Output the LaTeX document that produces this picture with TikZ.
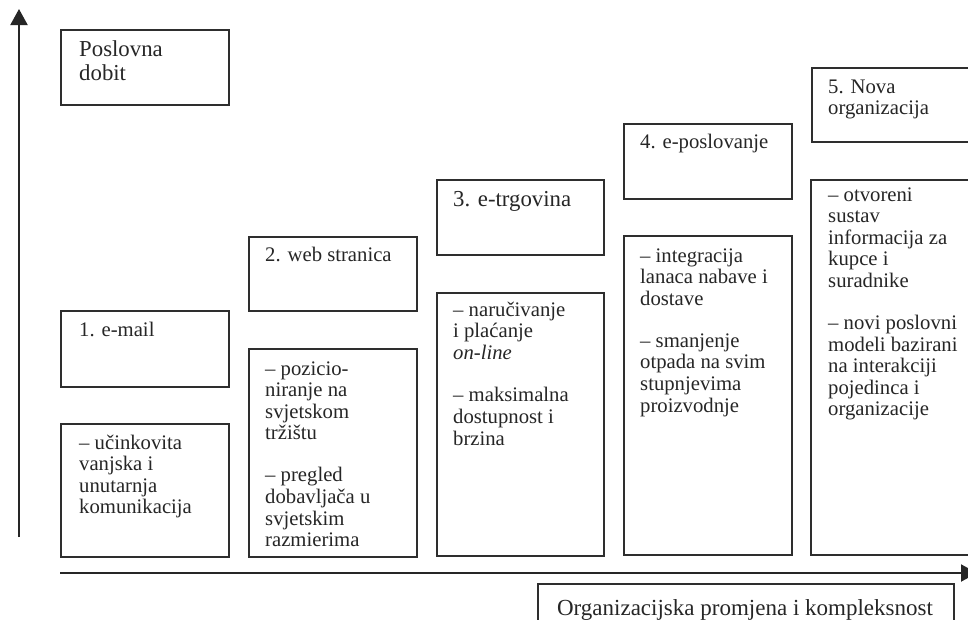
\documentclass[tikz,border=0pt]{standalone}
\usepackage{fontspec}
\setmainfont{Liberation Serif}
\usetikzlibrary{arrows.meta}
\begin{document}
\begin{tikzpicture}[x=1pt,y=-1pt,
  box/.style={draw=black!82, line width=1.6pt, anchor=north west, inner sep=0pt},
  txt/.style={anchor=base west, inner sep=0pt, text=black!85,
    font=\fontsize{20.7pt}{21.6pt}\selectfont},
  bigtxt/.style={txt, font=\fontsize{22.8pt}{24pt}\selectfont},
  axis/.style={draw=black!85, line width=2pt, -{Triangle[length=16pt,width=17pt]}}]
\useasboundingbox (0,0) rectangle (968,619);
\clip (0,0) rectangle (968,619);
\fill[white] (0,0) rectangle (968,619);

% axes
\coordinate (ybot) at (19,537);
\coordinate (ytop) at (19,9);
\coordinate (xl) at (60,573);
\coordinate (xr) at (977,573);
\draw[axis] (ybot) -- (ytop);
\draw[axis] (xl) -- (xr);

% Poslovna dobit
\node[box, minimum width=168pt, minimum height=75pt] (b0) at (60,29) {};
\node[bigtxt] (t0) at (79,56) {\parbox[t]{140pt}{Poslovna\\dobit}};

% 1
\node[box, minimum width=168pt, minimum height=76pt] (b1) at (60,310) {};
\node[txt] (t1) at (79,336) {1. e-mail};
\node[box, minimum width=168pt, minimum height=133pt] (d1) at (60,423) {};
\node[txt] (u1) at (79,449) {\parbox[t]{145pt}{– učinkovita\\vanjska i\\unutarnja\\komunikacija}};

% 2
\node[box, minimum width=168pt, minimum height=74pt] (b2) at (248,236) {};
\node[txt] (t2) at (265,261) {2. web stranica};
\node[box, minimum width=168pt, minimum height=208pt] (d2) at (248,348) {};
\node[txt] (u2) at (265,375) {\parbox[t]{148pt}{– pozicio-\\niranje na\\svjetskom\\tržištu\\[20.5pt]– pregled\\dobavljača u\\svjetskim\\razmierima}};

% 3
\node[box, minimum width=167pt, minimum height=75pt] (b3) at (436,179) {};
\node[bigtxt] (t3) at (453,206) {3. e-trgovina};
\node[box, minimum width=167pt, minimum height=263pt] (d3) at (436,292) {};
\node[txt] (u3) at (453,316) {\parbox[t]{148pt}{– naručivanje\\i plaćanje\\\textit{on-line}\\[21pt]– maksimalna\\dostupnost i\\brzina}};

% 4
\node[box, minimum width=168pt, minimum height=75pt] (b4) at (623,123) {};
\node[txt] (t4) at (640,148) {4. e-poslovanje};
\node[box, minimum width=168pt, minimum height=319pt] (d4) at (623,235) {};
\node[txt] (u4) at (640,262) {\parbox[t]{148pt}{– integracija\\lanaca nabave i\\dostave\\[20.5pt]– smanjenje\\otpada na svim\\stupnjevima\\proizvodnje}};

% 5
\node[box, minimum width=170pt, minimum height=74pt] (b5) at (811,67) {};
\node[txt] (t5) at (828,93) {\parbox[t]{140pt}{5. Nova\\organizacija}};
\node[box, minimum width=170pt, minimum height=375pt] (d5) at (810,179) {};
\node[txt] (u5) at (828,201) {\parbox[t]{140pt}{– otvoreni\\sustav\\informacija za\\kupce i\\suradnike\\[20.5pt]– novi poslovni\\modeli bazirani\\na interakciji\\pojedinca i\\organizacije}};

% bottom label
\node[box, minimum width=416pt, minimum height=50pt] (bl) at (537,583) {};
\node[anchor=base, inner sep=0pt, text=black!85, font=\fontsize{23pt}{24pt}\selectfont] (tl) at (745,615) {Organizacijska promjena i kompleksnost};
\end{tikzpicture}
\end{document}
